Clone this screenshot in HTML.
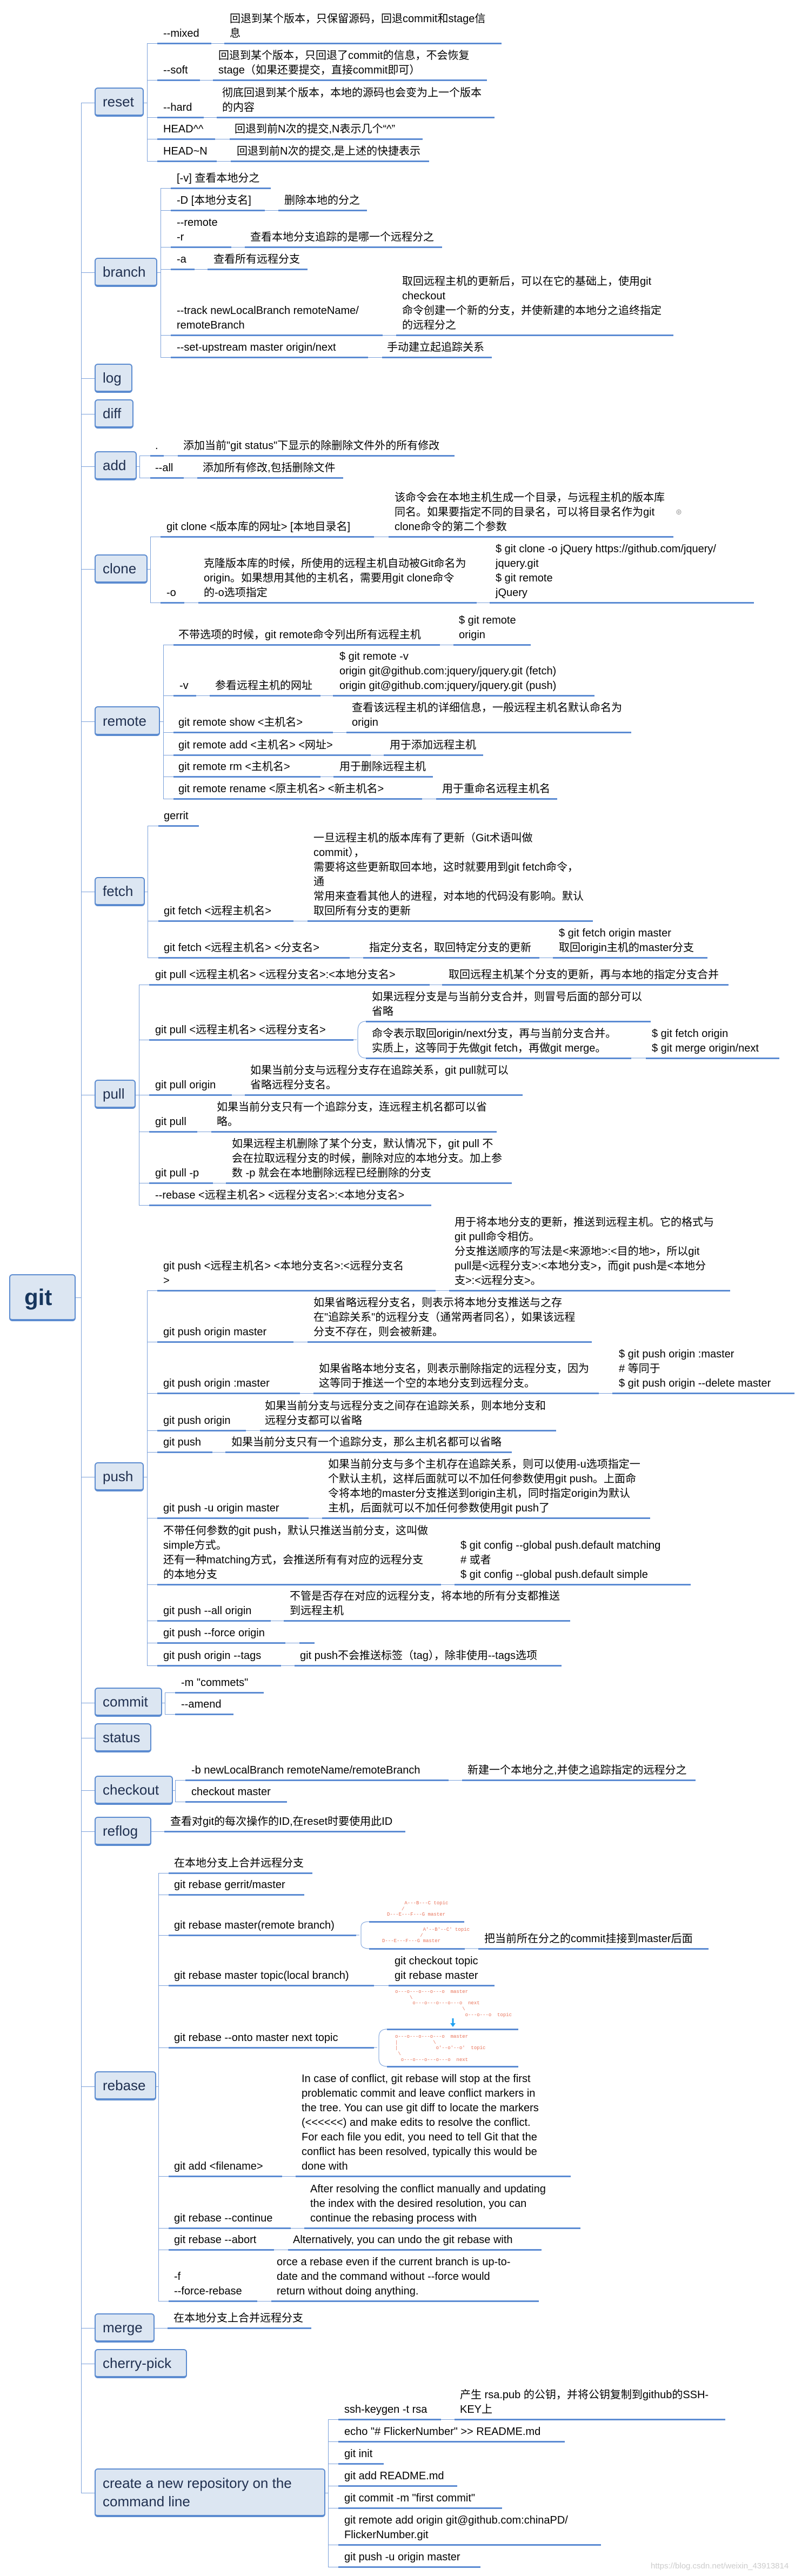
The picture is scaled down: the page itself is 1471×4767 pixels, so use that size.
<!DOCTYPE html>
<html><head><meta charset="utf-8"><style>
*{margin:0;padding:0}
body{width:1471px;height:4767px;position:relative;background:#fff;overflow:hidden}
.t{position:absolute;font-family:"Liberation Sans","Noto Sans CJK SC",sans-serif;font-size:20px;line-height:27px;white-space:nowrap;color:#000}
.u{position:absolute;height:3px;background:#5b8bd3}
.l{position:absolute;background:#7aa0da}
.b{position:absolute;box-sizing:border-box;background:#dce6f2;border:2px solid #5b8bd0;border-bottom-width:4px;border-radius:6px;font-family:"Liberation Sans","Noto Sans CJK SC",sans-serif;font-size:26px;line-height:34px;color:#1f2f4f;padding-left:13px;display:flex;align-items:center;white-space:nowrap}
.d{position:absolute;font-family:"Liberation Mono","DejaVu Sans Mono",monospace;font-size:9px;line-height:10.7px;color:#e8735a;white-space:pre}
</style></head><body>

<!-- trunk -->
<div class="l" style="left:150px;top:190px;width:1px;height:4423px"></div>
<div class="l" style="left:140px;top:2401px;width:10px;height:1px"></div>
<div class="b" style="left:17px;top:2358px;width:123px;height:87px;font-size:42px;font-weight:bold;color:#17365d;padding-left:26px">git</div>

<!-- stubs -->
<div class="l" style="left:150px;top:190px;width:25px;height:1px"></div>
<div class="l" style="left:150px;top:504px;width:25px;height:1px"></div>
<div class="l" style="left:150px;top:700px;width:25px;height:1px"></div>
<div class="l" style="left:150px;top:766px;width:25px;height:1px"></div>
<div class="l" style="left:150px;top:863px;width:25px;height:1px"></div>
<div class="l" style="left:150px;top:1053px;width:25px;height:1px"></div>
<div class="l" style="left:150px;top:1335px;width:25px;height:1px"></div>
<div class="l" style="left:150px;top:1650px;width:25px;height:1px"></div>
<div class="l" style="left:150px;top:2026px;width:25px;height:1px"></div>
<div class="l" style="left:150px;top:2733px;width:25px;height:1px"></div>
<div class="l" style="left:150px;top:3151px;width:25px;height:1px"></div>
<div class="l" style="left:150px;top:3216px;width:25px;height:1px"></div>
<div class="l" style="left:150px;top:3313px;width:25px;height:1px"></div>
<div class="l" style="left:150px;top:3389px;width:25px;height:1px"></div>
<div class="l" style="left:150px;top:3861px;width:25px;height:1px"></div>
<div class="l" style="left:150px;top:4308px;width:25px;height:1px"></div>
<div class="l" style="left:150px;top:4374px;width:25px;height:1px"></div>
<div class="l" style="left:150px;top:4613px;width:25px;height:1px"></div>

<!-- RESET -->
<div class="b" style="left:175px;top:162px;width:91px;height:54px">reset</div>
<div class="l" style="left:266px;top:190px;width:6px;height:1px"></div>
<div class="l" style="left:272px;top:80px;width:1px;height:218px"></div>
<div class="l" style="left:272px;top:80px;width:656px;height:1px"></div>
<div class="l" style="left:272px;top:148px;width:629px;height:1px"></div>
<div class="l" style="left:272px;top:217px;width:643px;height:1px"></div>
<div class="l" style="left:272px;top:257px;width:510px;height:1px"></div>
<div class="l" style="left:272px;top:298px;width:522px;height:1px"></div>
<div class="t" style="left:302px;top:49px">--mixed</div>
<div class="t" style="left:425px;top:22px">回退到某个版本，只保留源码，回退commit和stage信<br>息</div>
<div class="u" style="left:291px;top:79px;width:100px"></div><div class="u" style="left:415px;top:79px;width:513px"></div>
<div class="t" style="left:302px;top:117px">--soft</div>
<div class="t" style="left:404px;top:90px">回退到某个版本，只回退了commit的信息，不会恢复<br>stage（如果还要提交，直接commit即可）</div>
<div class="u" style="left:291px;top:147px;width:79px"></div><div class="u" style="left:394px;top:147px;width:507px"></div>
<div class="t" style="left:302px;top:186px">--hard</div>
<div class="t" style="left:411px;top:159px">彻底回退到某个版本，本地的源码也会变为上一个版本<br>的内容</div>
<div class="u" style="left:291px;top:216px;width:86px"></div><div class="u" style="left:401px;top:216px;width:514px"></div>
<div class="t" style="left:302px;top:226px">HEAD^^</div>
<div class="t" style="left:434px;top:226px">回退到前N次的提交,N表示几个“^”</div>
<div class="u" style="left:291px;top:256px;width:107px"></div><div class="u" style="left:425px;top:256px;width:357px"></div>
<div class="t" style="left:302px;top:267px">HEAD~N</div>
<div class="t" style="left:438px;top:267px">回退到前N次的提交,是上述的快捷表示</div>
<div class="u" style="left:291px;top:297px;width:110px"></div><div class="u" style="left:427px;top:297px;width:367px"></div>

<!-- BRANCH -->
<div class="b" style="left:175px;top:477px;width:116px;height:54px">branch</div>
<div class="l" style="left:291px;top:504px;width:6px;height:1px"></div>
<div class="l" style="left:297px;top:348px;width:1px;height:313px"></div>
<div class="l" style="left:297px;top:348px;width:204px;height:1px"></div>
<div class="l" style="left:297px;top:389px;width:382px;height:1px"></div>
<div class="l" style="left:297px;top:457px;width:521px;height:1px"></div>
<div class="l" style="left:297px;top:498px;width:272px;height:1px"></div>
<div class="l" style="left:297px;top:620px;width:949px;height:1px"></div>
<div class="l" style="left:297px;top:661px;width:613px;height:1px"></div>
<div class="t" style="left:327px;top:317px">[-v] 查看本地分之</div>
<div class="u" style="left:316px;top:347px;width:185px"></div>
<div class="t" style="left:327px;top:358px">-D  [本地分支名]</div>
<div class="t" style="left:526px;top:358px">删除本地的分之</div>
<div class="u" style="left:316px;top:388px;width:174px"></div><div class="u" style="left:515px;top:388px;width:164px"></div>
<div class="t" style="left:327px;top:399px">--remote<br>-r</div>
<div class="t" style="left:463px;top:426px">查看本地分支追踪的是哪一个远程分之</div>
<div class="u" style="left:316px;top:456px;width:112px"></div><div class="u" style="left:453px;top:456px;width:365px"></div>
<div class="t" style="left:327px;top:467px">-a</div>
<div class="t" style="left:395px;top:467px">查看所有远程分支</div>
<div class="u" style="left:316px;top:497px;width:44px"></div><div class="u" style="left:384px;top:497px;width:185px"></div>
<div class="t" style="left:327px;top:562px">--track newLocalBranch remoteName/<br>remoteBranch</div>
<div class="t" style="left:744px;top:508px">取回远程主机的更新后，可以在它的基础上，使用git<br>checkout<br>命令创建一个新的分支，并使新建的本地分之追终指定<br>的远程分之</div>
<div class="u" style="left:316px;top:619px;width:392px"></div><div class="u" style="left:733px;top:619px;width:513px"></div>
<div class="t" style="left:327px;top:630px">--set-upstream  master  origin/next</div>
<div class="t" style="left:716px;top:630px">手动建立起追踪关系</div>
<div class="u" style="left:316px;top:660px;width:365px"></div><div class="u" style="left:707px;top:660px;width:203px"></div>

<!-- LOG DIFF -->
<div class="b" style="left:175px;top:673px;width:70px;height:54px">log</div>
<div class="b" style="left:175px;top:739px;width:72px;height:54px">diff</div>

<!-- ADD -->
<div class="b" style="left:175px;top:835px;width:78px;height:54px">add</div>
<div class="l" style="left:253px;top:863px;width:5px;height:1px"></div>
<div class="l" style="left:258px;top:843px;width:1px;height:41px"></div>
<div class="l" style="left:258px;top:843px;width:583px;height:1px"></div>
<div class="l" style="left:258px;top:884px;width:377px;height:1px"></div>
<div class="t" style="left:287px;top:812px">.</div>
<div class="t" style="left:339px;top:812px">添加当前"git status"下显示的除删除文件外的所有修改</div>
<div class="u" style="left:278px;top:842px;width:25px"></div><div class="u" style="left:329px;top:842px;width:512px"></div>
<div class="t" style="left:287px;top:853px">--all</div>
<div class="t" style="left:375px;top:853px">添加所有修改,包括删除文件</div>
<div class="u" style="left:278px;top:883px;width:62px"></div><div class="u" style="left:365px;top:883px;width:270px"></div>

<!-- CLONE -->
<div class="b" style="left:175px;top:1026px;width:98px;height:54px">clone</div>
<div class="l" style="left:273px;top:1053px;width:5px;height:1px"></div>
<div class="l" style="left:278px;top:993px;width:1px;height:122px"></div>
<div class="l" style="left:278px;top:993px;width:968px;height:1px"></div>
<div class="l" style="left:278px;top:1115px;width:1117px;height:1px"></div>
<div class="t" style="left:308px;top:962px">git clone  &lt;版本库的网址&gt;  [本地目录名]</div>
<div class="t" style="left:730px;top:908px">该命令会在本地主机生成一个目录，与远程主机的版本库<br>同名。如果要指定不同的目录名，可以将目录名作为git<br>clone命令的第二个参数</div>
<div class="t" style="left:1250px;top:935px;font-size:12px;color:#888">⊕</div>
<div class="u" style="left:297px;top:992px;width:395px"></div><div class="u" style="left:719px;top:992px;width:527px"></div>
<div class="t" style="left:308px;top:1084px">-o</div>
<div class="t" style="left:377px;top:1030px">克隆版本库的时候，所使用的远程主机自动被Git命名为<br>origin。如果想用其他的主机名，需要用git clone命令<br>的-o选项指定</div>
<div class="t" style="left:917px;top:1003px">$ git clone -o jQuery https://github.com/jquery/<br>jquery.git<br>$ git remote<br>jQuery</div>
<div class="u" style="left:297px;top:1114px;width:44px"></div><div class="u" style="left:367px;top:1114px;width:515px"></div><div class="u" style="left:906px;top:1114px;width:489px"></div>

<!-- REMOTE -->
<div class="b" style="left:175px;top:1307px;width:121px;height:55px">remote</div>
<div class="l" style="left:296px;top:1335px;width:6px;height:1px"></div>
<div class="l" style="left:302px;top:1193px;width:1px;height:285px"></div>
<div class="l" style="left:302px;top:1193px;width:680px;height:1px"></div>
<div class="l" style="left:302px;top:1287px;width:798px;height:1px"></div>
<div class="l" style="left:302px;top:1355px;width:866px;height:1px"></div>
<div class="l" style="left:302px;top:1397px;width:592px;height:1px"></div>
<div class="l" style="left:302px;top:1437px;width:499px;height:1px"></div>
<div class="l" style="left:302px;top:1478px;width:729px;height:1px"></div>
<div class="t" style="left:330px;top:1162px">不带选项的时候，git  remote命令列出所有远程主机</div>
<div class="t" style="left:849px;top:1135px">$ git remote<br>origin</div>
<div class="u" style="left:321px;top:1192px;width:493px"></div><div class="u" style="left:839px;top:1192px;width:143px"></div>
<div class="t" style="left:332px;top:1256px">-v</div>
<div class="t" style="left:398px;top:1256px">参看远程主机的网址</div>
<div class="t" style="left:628px;top:1202px">$ git remote -v<br>origin  git@github.com:jquery/jquery.git (fetch)<br>origin  git@github.com:jquery/jquery.git (push)</div>
<div class="u" style="left:321px;top:1286px;width:42px"></div><div class="u" style="left:388px;top:1286px;width:205px"></div><div class="u" style="left:616px;top:1286px;width:484px"></div>
<div class="t" style="left:330px;top:1324px">git  remote  show  &lt;主机名&gt;</div>
<div class="t" style="left:651px;top:1297px">查看该远程主机的详细信息，一般远程主机名默认命名为<br>origin</div>
<div class="u" style="left:321px;top:1354px;width:295px"></div><div class="u" style="left:641px;top:1354px;width:527px"></div>
<div class="t" style="left:330px;top:1366px">git  remote  add  &lt;主机名&gt;  &lt;网址&gt;</div>
<div class="t" style="left:721px;top:1366px">用于添加远程主机</div>
<div class="u" style="left:321px;top:1396px;width:365px"></div><div class="u" style="left:710px;top:1396px;width:184px"></div>
<div class="t" style="left:330px;top:1406px">git  remote  rm  &lt;主机名&gt;</div>
<div class="t" style="left:628px;top:1406px">用于删除远程主机</div>
<div class="u" style="left:321px;top:1436px;width:272px"></div><div class="u" style="left:617px;top:1436px;width:184px"></div>
<div class="t" style="left:330px;top:1447px">git  remote  rename  &lt;原主机名&gt;  &lt;新主机名&gt;</div>
<div class="t" style="left:818px;top:1447px">用于重命名远程主机名</div>
<div class="u" style="left:321px;top:1477px;width:460px"></div><div class="u" style="left:807px;top:1477px;width:224px"></div>

<!-- FETCH -->
<div class="b" style="left:175px;top:1623px;width:93px;height:54px">fetch</div>
<div class="l" style="left:268px;top:1650px;width:5px;height:1px"></div>
<div class="l" style="left:273px;top:1528px;width:1px;height:244px"></div>
<div class="l" style="left:273px;top:1528px;width:95px;height:1px"></div>
<div class="l" style="left:273px;top:1704px;width:824px;height:1px"></div>
<div class="l" style="left:273px;top:1772px;width:1036px;height:1px"></div>
<div class="t" style="left:303px;top:1497px">gerrit</div>
<div class="u" style="left:293px;top:1527px;width:75px"></div>
<div class="t" style="left:303px;top:1673px">git  fetch  &lt;远程主机名&gt;</div>
<div class="t" style="left:580px;top:1538px">一旦远程主机的版本库有了更新（Git术语叫做<br>commit），<br>需要将这些更新取回本地，这时就要用到git fetch命令，<br>通<br>常用来查看其他人的进程，对本地的代码没有影响。默认<br>取回所有分支的更新</div>
<div class="u" style="left:293px;top:1703px;width:250px"></div><div class="u" style="left:569px;top:1703px;width:528px"></div>
<div class="t" style="left:303px;top:1741px">git  fetch  &lt;远程主机名&gt;  &lt;分支名&gt;</div>
<div class="t" style="left:683px;top:1741px">指定分支名，取回特定分支的更新</div>
<div class="t" style="left:1034px;top:1714px">$ git fetch origin master<br>取回origin主机的master分支</div>
<div class="u" style="left:293px;top:1771px;width:354px"></div><div class="u" style="left:672px;top:1771px;width:326px"></div><div class="u" style="left:1023px;top:1771px;width:286px"></div>

<!-- PULL -->
<div class="b" style="left:175px;top:1998px;width:76px;height:54px">pull</div>
<div class="l" style="left:251px;top:2026px;width:6px;height:1px"></div>
<div class="l" style="left:257px;top:1822px;width:1px;height:408px"></div>
<div class="l" style="left:257px;top:1822px;width:1091px;height:1px"></div>
<div class="l" style="left:257px;top:1924px;width:397px;height:1px"></div>
<div class="l" style="left:257px;top:2026px;width:710px;height:1px"></div>
<div class="l" style="left:257px;top:2094px;width:662px;height:1px"></div>
<div class="l" style="left:257px;top:2189px;width:690px;height:1px"></div>
<div class="l" style="left:257px;top:2230px;width:541px;height:1px"></div>
<div class="t" style="left:287px;top:1791px">git  pull  &lt;远程主机名&gt;  &lt;远程分支名&gt;:&lt;本地分支名&gt;</div>
<div class="t" style="left:830px;top:1791px">取回远程主机某个分支的更新，再与本地的指定分支合并</div>
<div class="u" style="left:276px;top:1821px;width:519px"></div><div class="u" style="left:818px;top:1821px;width:530px"></div>
<div class="t" style="left:287px;top:1893px">git pull  &lt;远程主机名&gt;  &lt;远程分支名&gt;</div>
<div class="u" style="left:276px;top:1923px;width:378px"></div>
<svg style="position:absolute;left:0;top:0" width="1471" height="4767"><g fill="none" stroke="#7aa0da" stroke-width="1">
<path d="M654 1924 L660 1924 M677 1890 Q662 1890 662 1908 L662 1940 Q662 1958 677 1958"/>
<path d="M1168 1958 L1195 1958"/>
<path d="M659 3581 L665 3581 M683 3556 Q668 3556 668 3566 L668 3596 Q668 3606 683 3606 M860 3606 L885 3606"/>
<path d="M692 3789 L698 3789 M716 3755 Q701 3755 701 3770 L701 3809 Q701 3824 716 3824"/>
</g>
<path d="M838 3735 L838 3745" stroke="#1ea0f0" stroke-width="3"/><path d="M833 3744 L843 3744 L838 3751 Z" fill="#1ea0f0"/>
</svg>
<div class="t" style="left:688px;top:1832px">如果远程分支是与当前分支合并，则冒号后面的部分可以<br>省略</div>
<div class="u" style="left:677px;top:1889px;width:527px"></div>
<div class="t" style="left:688px;top:1900px">命令表示取回origin/next分支，再与当前分支合并。<br>实质上，这等同于先做git fetch，再做git merge。</div>
<div class="t" style="left:1206px;top:1900px">$ git fetch origin<br>$ git merge origin/next</div>
<div class="u" style="left:677px;top:1957px;width:491px"></div><div class="u" style="left:1195px;top:1957px;width:247px"></div>
<div class="t" style="left:287px;top:1995px">git pull origin</div>
<div class="t" style="left:463px;top:1968px">如果当前分支与远程分支存在追踪关系，git pull就可以<br>省略远程分支名。</div>
<div class="u" style="left:276px;top:2025px;width:153px"></div><div class="u" style="left:453px;top:2025px;width:514px"></div>
<div class="t" style="left:287px;top:2063px">git pull</div>
<div class="t" style="left:401px;top:2036px">如果当前分支只有一个追踪分支，连远程主机名都可以省<br>略。</div>
<div class="u" style="left:276px;top:2093px;width:89px"></div><div class="u" style="left:391px;top:2093px;width:528px"></div>
<div class="t" style="left:287px;top:2158px">git pull -p</div>
<div class="t" style="left:429px;top:2104px">如果远程主机删除了某个分支，默认情况下，git pull 不<br>会在拉取远程分支的时候，删除对应的本地分支。加上参<br>数 -p 就会在本地删除远程已经删除的分支</div>
<div class="u" style="left:276px;top:2188px;width:118px"></div><div class="u" style="left:418px;top:2188px;width:529px"></div>
<div class="t" style="left:287px;top:2199px">--rebase  &lt;远程主机名&gt;  &lt;远程分支名&gt;:&lt;本地分支名&gt;</div>
<div class="u" style="left:276px;top:2229px;width:522px"></div>

<!-- PUSH -->
<div class="b" style="left:175px;top:2706px;width:91px;height:54px">push</div>
<div class="l" style="left:266px;top:2733px;width:6px;height:1px"></div>
<div class="l" style="left:272px;top:2388px;width:1px;height:694px"></div>
<div class="l" style="left:272px;top:2388px;width:1079px;height:1px"></div>
<div class="l" style="left:272px;top:2483px;width:823px;height:1px"></div>
<div class="l" style="left:272px;top:2578px;width:1198px;height:1px"></div>
<div class="l" style="left:272px;top:2647px;width:757px;height:1px"></div>
<div class="l" style="left:272px;top:2687px;width:675px;height:1px"></div>
<div class="l" style="left:272px;top:2809px;width:931px;height:1px"></div>
<div class="l" style="left:272px;top:2932px;width:1006px;height:1px"></div>
<div class="l" style="left:272px;top:2999px;width:783px;height:1px"></div>
<div class="l" style="left:272px;top:3040px;width:310px;height:1px"></div>
<div class="l" style="left:272px;top:3082px;width:767px;height:1px"></div>
<div class="t" style="left:302px;top:2330px">git  push  &lt;远程主机名&gt;  &lt;本地分支名&gt;:&lt;远程分支名<br>&gt;</div>
<div class="t" style="left:841px;top:2249px">用于将本地分支的更新，推送到远程主机。它的格式与<br>git pull命令相仿。<br>分支推送顺序的写法是&lt;来源地&gt;:&lt;目的地&gt;，所以git<br>pull是&lt;远程分支&gt;:&lt;本地分支&gt;，而git push是&lt;本地分<br>支&gt;:&lt;远程分支&gt;。</div>
<div class="u" style="left:291px;top:2387px;width:515px"></div><div class="u" style="left:831px;top:2387px;width:520px"></div>
<div class="t" style="left:302px;top:2452px">git  push  origin  master</div>
<div class="t" style="left:580px;top:2398px">如果省略远程分支名，则表示将本地分支推送与之存<br>在"追踪关系"的远程分支（通常两者同名），如果该远程<br>分支不存在，则会被新建。</div>
<div class="u" style="left:291px;top:2482px;width:252px"></div><div class="u" style="left:569px;top:2482px;width:526px"></div>
<div class="t" style="left:302px;top:2547px">git  push  origin  :master</div>
<div class="t" style="left:590px;top:2520px">如果省略本地分支名，则表示删除指定的远程分支，因为<br>这等同于推送一个空的本地分支到远程分支。</div>
<div class="t" style="left:1145px;top:2493px">$ git push origin :master<br># 等同于<br>$ git push origin --delete master</div>
<div class="u" style="left:291px;top:2577px;width:264px"></div><div class="u" style="left:580px;top:2577px;width:528px"></div><div class="u" style="left:1133px;top:2577px;width:337px"></div>
<div class="t" style="left:302px;top:2616px">git push origin</div>
<div class="t" style="left:490px;top:2589px">如果当前分支与远程分支之间存在追踪关系，则本地分支和<br>远程分支都可以省略</div>
<div class="u" style="left:291px;top:2646px;width:164px"></div><div class="u" style="left:481px;top:2646px;width:548px"></div>
<div class="t" style="left:302px;top:2656px">git push</div>
<div class="t" style="left:428px;top:2656px">如果当前分支只有一个追踪分支，那么主机名都可以省略</div>
<div class="u" style="left:291px;top:2686px;width:102px"></div><div class="u" style="left:417px;top:2686px;width:530px"></div>
<div class="t" style="left:302px;top:2778px">git push  -u  origin  master</div>
<div class="t" style="left:607px;top:2697px">如果当前分支与多个主机存在追踪关系，则可以使用-u选项指定一<br>个默认主机，这样后面就可以不加任何参数使用git push。上面命<br>令将本地的master分支推送到origin主机，同时指定origin为默认<br>主机，后面就可以不加任何参数使用git push了</div>
<div class="u" style="left:291px;top:2808px;width:280px"></div><div class="u" style="left:596px;top:2808px;width:607px"></div>
<div class="t" style="left:302px;top:2820px">不带任何参数的git push，默认只推送当前分支，这叫做<br>simple方式。<br>还有一种matching方式，会推送所有有对应的远程分支<br>的本地分支</div>
<div class="t" style="left:852px;top:2847px">$ git config --global push.default matching<br># 或者<br>$ git config --global push.default simple</div>
<div class="u" style="left:291px;top:2931px;width:525px"></div><div class="u" style="left:841px;top:2931px;width:437px"></div>
<div class="t" style="left:302px;top:2968px">git push --all origin</div>
<div class="t" style="left:536px;top:2941px">不管是否存在对应的远程分支，将本地的所有分支都推送<br>到远程主机</div>
<div class="u" style="left:291px;top:2998px;width:210px"></div><div class="u" style="left:525px;top:2998px;width:530px"></div>
<div class="t" style="left:302px;top:3009px">git push --force origin</div>
<div class="u" style="left:291px;top:3039px;width:237px"></div><div class="u" style="left:554px;top:3039px;width:28px"></div>
<div class="t" style="left:302px;top:3051px">git push origin --tags</div>
<div class="t" style="left:555px;top:3051px">git push不会推送标签（tag），除非使用--tags选项</div>
<div class="u" style="left:291px;top:3081px;width:229px"></div><div class="u" style="left:545px;top:3081px;width:494px"></div>

<!-- COMMIT / STATUS -->
<div class="b" style="left:175px;top:3123px;width:125px;height:54px">commit</div>
<div class="l" style="left:300px;top:3151px;width:5px;height:1px"></div>
<div class="l" style="left:305px;top:3132px;width:1px;height:40px"></div>
<div class="l" style="left:305px;top:3132px;width:183px;height:1px"></div>
<div class="l" style="left:305px;top:3172px;width:127px;height:1px"></div>
<div class="t" style="left:335px;top:3101px">-m "commets"</div>
<div class="u" style="left:324px;top:3131px;width:164px"></div>
<div class="t" style="left:335px;top:3141px">--amend</div>
<div class="u" style="left:324px;top:3171px;width:108px"></div>
<div class="b" style="left:175px;top:3189px;width:105px;height:54px">status</div>

<!-- CHECKOUT -->
<div class="b" style="left:175px;top:3286px;width:145px;height:54px">checkout</div>
<div class="l" style="left:320px;top:3313px;width:4px;height:1px"></div>
<div class="l" style="left:324px;top:3294px;width:1px;height:40px"></div>
<div class="l" style="left:324px;top:3294px;width:963px;height:1px"></div>
<div class="l" style="left:324px;top:3334px;width:207px;height:1px"></div>
<div class="t" style="left:354px;top:3263px">-b newLocalBranch remoteName/remoteBranch</div>
<div class="t" style="left:865px;top:3263px">新建一个本地分之,并使之追踪指定的远程分之</div>
<div class="u" style="left:343px;top:3293px;width:487px"></div><div class="u" style="left:855px;top:3293px;width:432px"></div>
<div class="t" style="left:354px;top:3303px">checkout  master</div>
<div class="u" style="left:343px;top:3333px;width:188px"></div>

<!-- REFLOG -->
<div class="b" style="left:175px;top:3362px;width:105px;height:54px">reflog</div>
<div class="l" style="left:280px;top:3389px;width:24px;height:1px"></div>
<div class="t" style="left:315px;top:3358px">查看对git的每次操作的ID,在reset时要使用此ID</div>
<div class="u" style="left:304px;top:3388px;width:446px"></div>

<!-- REBASE -->
<div class="b" style="left:175px;top:3833px;width:114px;height:54px">rebase</div>
<div class="l" style="left:289px;top:3861px;width:4px;height:1px"></div>
<div class="l" style="left:293px;top:3466px;width:1px;height:792px"></div>
<div class="l" style="left:293px;top:3466px;width:285px;height:1px"></div>
<div class="l" style="left:293px;top:3506px;width:270px;height:1px"></div>
<div class="l" style="left:293px;top:3581px;width:366px;height:1px"></div>
<div class="l" style="left:293px;top:3674px;width:622px;height:1px"></div>
<div class="l" style="left:293px;top:3789px;width:399px;height:1px"></div>
<div class="l" style="left:293px;top:4027px;width:763px;height:1px"></div>
<div class="l" style="left:293px;top:4123px;width:781px;height:1px"></div>
<div class="l" style="left:293px;top:4163px;width:709px;height:1px"></div>
<div class="l" style="left:293px;top:4258px;width:704px;height:1px"></div>
<div class="t" style="left:322px;top:3435px">在本地分支上合并远程分支</div>
<div class="u" style="left:312px;top:3465px;width:266px"></div>
<div class="t" style="left:322px;top:3475px">git rebase gerrit/master</div>
<div class="u" style="left:312px;top:3505px;width:251px"></div>
<div class="t" style="left:322px;top:3550px">git rebase master(remote branch)</div>
<div class="u" style="left:312px;top:3580px;width:347px"></div>
<div class="d" style="left:716px;top:3517px">      A---B---C topic
     /
D---E---F---G master</div>
<div class="u" style="left:683px;top:3555px;width:176px"></div>
<div class="d" style="left:707px;top:3566px">              A'--B'--C' topic
             /
D---E---F---G master</div>
<div class="u" style="left:683px;top:3605px;width:177px"></div>
<div class="t" style="left:896px;top:3575px">把当前所在分之的commit挂接到master后面</div>
<div class="u" style="left:885px;top:3605px;width:426px"></div>
<div class="t" style="left:322px;top:3643px">git rebase master  topic(local branch)</div>
<div class="t" style="left:730px;top:3616px">git checkout topic<br>git rebase master</div>
<div class="u" style="left:312px;top:3673px;width:380px"></div><div class="u" style="left:719px;top:3673px;width:196px"></div>
<div class="d" style="left:731px;top:3681px">o---o---o---o---o  master
     \
      o---o---o---o---o  next
                       \
                        o---o---o  topic</div>
<div class="u" style="left:716px;top:3754px;width:243px"></div>
<div class="t" style="left:322px;top:3758px">git rebase --onto  master  next  topic</div>
<div class="u" style="left:312px;top:3788px;width:380px"></div>
<div class="d" style="left:731px;top:3764px">o---o---o---o---o  master
|            \
|             o'--o'--o'  topic
 \
  o---o---o---o---o  next</div>
<div class="u" style="left:716px;top:3823px;width:243px"></div>
<div class="t" style="left:322px;top:3996px">git add &lt;filename&gt;</div>
<div class="t" style="left:558px;top:3834px">In case of conflict, git rebase will stop at the first<br>problematic commit and leave conflict markers in<br>the tree. You can use git diff to locate the markers<br>(&lt;&lt;&lt;&lt;&lt;&lt;) and make edits to resolve the conflict.<br>For each file you edit, you need to tell Git that the<br>conflict has been resolved, typically this would be<br>done with</div>
<div class="u" style="left:312px;top:4026px;width:210px"></div><div class="u" style="left:547px;top:4026px;width:509px"></div>
<div class="t" style="left:322px;top:4092px">git rebase --continue</div>
<div class="t" style="left:574px;top:4038px">After resolving the conflict manually and updating<br>the index with the desired resolution, you can<br>continue the rebasing process with</div>
<div class="u" style="left:312px;top:4122px;width:226px"></div><div class="u" style="left:563px;top:4122px;width:511px"></div>
<div class="t" style="left:322px;top:4132px">git rebase --abort</div>
<div class="t" style="left:542px;top:4132px">Alternatively, you can undo the git rebase with</div>
<div class="u" style="left:312px;top:4162px;width:195px"></div><div class="u" style="left:533px;top:4162px;width:469px"></div>
<div class="t" style="left:322px;top:4200px">-f<br>--force-rebase</div>
<div class="t" style="left:512px;top:4173px">orce a rebase even if the current branch is up-to-<br>date and the command without --force would<br>return without doing anything.</div>
<div class="u" style="left:312px;top:4257px;width:164px"></div><div class="u" style="left:502px;top:4257px;width:495px"></div>

<!-- MERGE / CHERRY -->
<div class="b" style="left:175px;top:4281px;width:111px;height:54px">merge</div>
<div class="l" style="left:286px;top:4308px;width:24px;height:1px"></div>
<div class="t" style="left:321px;top:4277px">在本地分支上合并远程分支</div>
<div class="u" style="left:310px;top:4307px;width:266px"></div>
<div class="b" style="left:175px;top:4347px;width:171px;height:54px">cherry-pick</div>

<!-- CREATE -->
<div class="b" style="left:175px;top:4568px;width:427px;height:90px">create a new repository on the<br>command line</div>
<div class="l" style="left:602px;top:4613px;width:5px;height:1px"></div>
<div class="l" style="left:607px;top:4477px;width:1px;height:273px"></div>
<div class="l" style="left:607px;top:4477px;width:735px;height:1px"></div>
<div class="l" style="left:607px;top:4518px;width:438px;height:1px"></div>
<div class="l" style="left:607px;top:4559px;width:103px;height:1px"></div>
<div class="l" style="left:607px;top:4600px;width:239px;height:1px"></div>
<div class="l" style="left:607px;top:4641px;width:322px;height:1px"></div>
<div class="l" style="left:607px;top:4709px;width:505px;height:1px"></div>
<div class="l" style="left:607px;top:4750px;width:282px;height:1px"></div>
<div class="t" style="left:637px;top:4446px">ssh-keygen -t rsa</div>
<div class="t" style="left:851px;top:4419px">产生 rsa.pub 的公钥，并将公钥复制到github的SSH-<br>KEY上</div>
<div class="u" style="left:626px;top:4476px;width:190px"></div><div class="u" style="left:841px;top:4476px;width:501px"></div>
<div class="t" style="left:637px;top:4487px">echo "# FlickerNumber" &gt;&gt; README.md</div>
<div class="u" style="left:626px;top:4517px;width:419px"></div>
<div class="t" style="left:637px;top:4528px">git init</div>
<div class="u" style="left:626px;top:4558px;width:84px"></div>
<div class="t" style="left:637px;top:4569px">git add README.md</div>
<div class="u" style="left:626px;top:4599px;width:220px"></div>
<div class="t" style="left:637px;top:4610px">git commit -m "first commit"</div>
<div class="u" style="left:626px;top:4640px;width:303px"></div>
<div class="t" style="left:637px;top:4651px">git remote add origin git@github.com:chinaPD/<br>FlickerNumber.git</div>
<div class="u" style="left:626px;top:4708px;width:486px"></div>
<div class="t" style="left:637px;top:4719px">git push -u origin master</div>
<div class="u" style="left:626px;top:4749px;width:263px"></div>
<div class="t" style="left:1204px;top:4735px;font-size:15px;color:#ccc">https://blog.csdn.net/weixin_43913814</div>
</body></html>
